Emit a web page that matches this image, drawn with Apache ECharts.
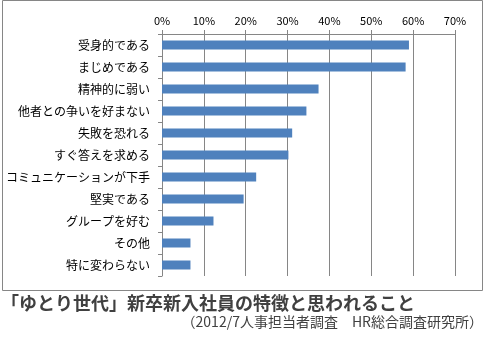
<!DOCTYPE html>
<html><head><meta charset="utf-8">
<script src="https://cdn.jsdelivr.net/npm/echarts@6/dist/echarts.min.js"></script>
<style>html,body{margin:0;padding:0;background:#fff}#c{width:486px;height:342px}</style>
</head><body><div id="c"></div>
<script>
const categories = ['受身的である','まじめである','精神的に弱い','他者との争いを好まない','失敗を恐れる','すぐ答えを求める','コミュニケーションが下手','堅実である','グループを好む','その他','特に変わらない'];
const values = [59.0, 58.2, 37.4, 34.5, 31.1, 30.2, 22.5, 19.5, 12.3, 6.8, 6.8];
const axisMax = 70;
const axisStep = 10;
const titleText = '「ゆとり世代」新卒新入社員の特徴と思われること';
const subText = '（2012/7人事担当者調査　HR総合調査研究所）';

const chart = echarts.init(document.getElementById('c'));
const font = '"Noto Sans CJK JP", sans-serif';
chart.setOption({
  animation: false,
  textStyle: {fontFamily: font},
  graphic: [
    {type: 'rect', shape: {x: 2.5, y: 0.5, width: 480, height: 290}, style: {fill: 'none', stroke: '#868686', lineWidth: 1}, z: -1},
    {type: 'text', left: 1, top: 294, style: {text: titleText, font: 'bold 18px ' + font, fill: '#404040'}},
    {type: 'text', right: 3, top: 315, style: {text: subText, font: '14px ' + font, fill: '#404040'}}
  ],
  grid: {left: 162, right: 31, top: 34, bottom: 66},
  xAxis: {
    type: 'value', position: 'top', min: 0, max: axisMax, interval: axisStep,
    axisLine: {show: true, lineStyle: {color: '#868686'}},
    axisTick: {show: true, length: 4, lineStyle: {color: '#868686'}},
    splitLine: {show: true, lineStyle: {color: '#868686'}},
    axisLabel: {formatter: '{value}%', fontSize: 11, color: '#000', margin: 8, fontFamily: font}
  },
  yAxis: {
    type: 'category', inverse: true, data: categories,
    axisLine: {show: true, lineStyle: {color: '#868686'}},
    axisTick: {show: true, length: 4, lineStyle: {color: '#868686'}},
    axisLabel: {fontSize: 12, color: '#000', margin: 12, fontFamily: font}
  },
  series: [{
    type: 'bar', data: values, barWidth: 9,
    itemStyle: {color: '#4F81BD'}
  }]
});
</script></body></html>
